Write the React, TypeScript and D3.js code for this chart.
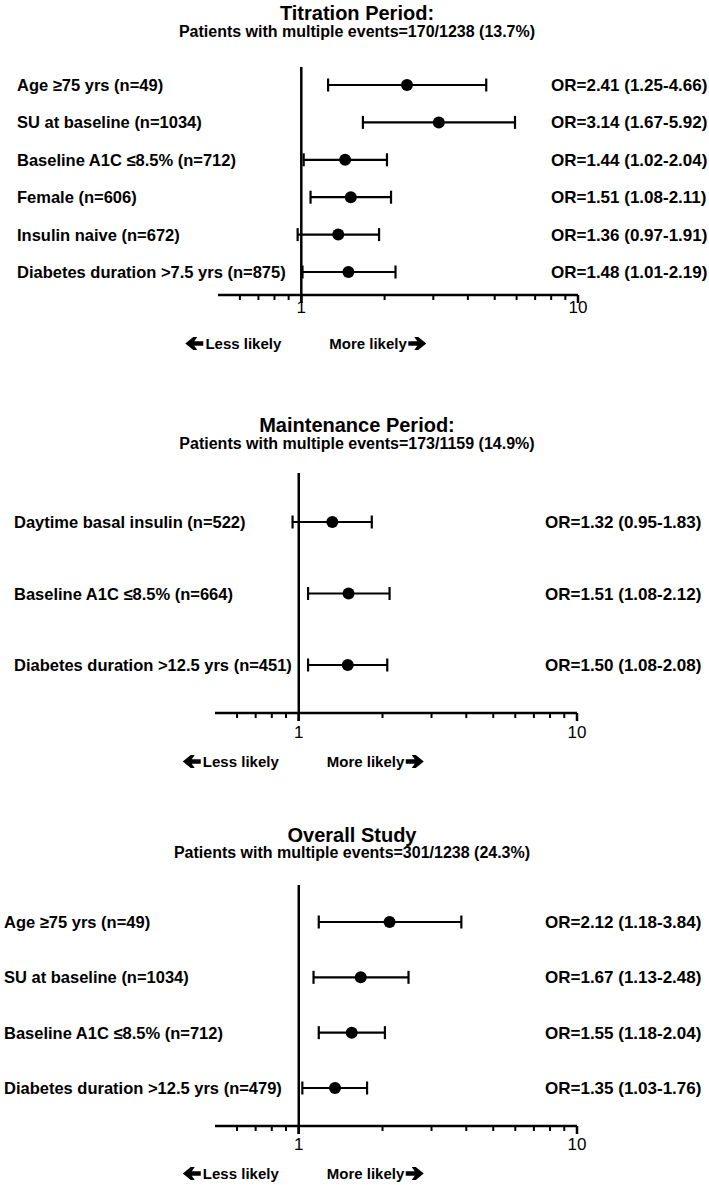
import React from "react";
import * as d3 from "d3";

// ---------- Data ----------
const titrationTitle = "Titration Period:";
const titrationSubtitle = "Patients with multiple events=170/1238 (13.7%)";
const titrationLabels = [
  "Age \u226575 yrs (n=49)",
  "SU at baseline (n=1034)",
  "Baseline A1C \u22648.5% (n=712)",
  "Female (n=606)",
  "Insulin naive (n=672)",
  "Diabetes duration >7.5 yrs (n=875)",
];
const titrationOR = [2.41, 3.14, 1.44, 1.51, 1.36, 1.48];
const titrationLow = [1.25, 1.67, 1.02, 1.08, 0.97, 1.01];
const titrationHigh = [4.66, 5.92, 2.04, 2.11, 1.91, 2.19];

const maintenanceTitle = "Maintenance Period:";
const maintenanceSubtitle = "Patients with multiple events=173/1159 (14.9%)";
const maintenanceLabels = [
  "Daytime basal insulin (n=522)",
  "Baseline A1C \u22648.5% (n=664)",
  "Diabetes duration >12.5 yrs (n=451)",
];
const maintenanceOR = [1.32, 1.51, 1.5];
const maintenanceLow = [0.95, 1.08, 1.08];
const maintenanceHigh = [1.83, 2.12, 2.08];

const overallTitle = "Overall Study";
const overallSubtitle = "Patients with multiple events=301/1238 (24.3%)";
const overallLabels = [
  "Age \u226575 yrs (n=49)",
  "SU at baseline (n=1034)",
  "Baseline A1C \u22648.5% (n=712)",
  "Diabetes duration >12.5 yrs (n=479)",
];
const overallOR = [2.12, 1.67, 1.55, 1.35];
const overallLow = [1.18, 1.13, 1.18, 1.03];
const overallHigh = [3.84, 2.48, 2.04, 1.76];

const xDomain = [0.5, 10];
const majorTicks = [1, 10];
const minorTicks = [0.6, 0.7, 0.8, 0.9, 2, 3, 4, 5, 6, 7, 8, 9];
const lessText = "Less likely";
const moreText = "More likely";

// ---------- Layout ----------
const FONT = "'Liberation Sans', Arial, Helvetica, sans-serif";

type Layout = {
  titleCx: number;
  titleY: number;
  subY: number;
  lineTop: number;
  rowTop: number;
  rowBottom: number;
  axisY: number;
  xLeft: number;
  xRight: number;
  tickLabelY: number;
  likelyY: number;
  labelX: number;
  orX: number;
};

const layouts: Layout[] = [
  { titleCx: 357, titleY: 20, subY: 37, lineTop: 67, rowTop: 85, rowBottom: 272, axisY: 295, xLeft: 218, xRight: 578, tickLabelY: 313, likelyY: 349, labelX: 17, orX: 551 },
  { titleCx: 357, titleY: 432, subY: 449, lineTop: 473, rowTop: 522, rowBottom: 665, axisY: 713, xLeft: 215, xRight: 577, tickLabelY: 738, likelyY: 767, labelX: 14, orX: 545 },
  { titleCx: 352, titleY: 842, subY: 858, lineTop: 885, rowTop: 922, rowBottom: 1088, axisY: 1126, xLeft: 215, xRight: 577, tickLabelY: 1150, likelyY: 1179, labelX: 4, orX: 545 },
];

const fmt = d3.format(".2f");

function Arrow({ x, y, dir }: { x: number; y: number; dir: 1 | -1 }) {
  const L = 18, shaftL = 9, st = 2.2, hh = 6.5;
  const p = d3.path();
  p.moveTo(x, y - st);
  p.lineTo(x + dir * shaftL, y - st);
  p.lineTo(x + dir * (shaftL - 3), y - hh);
  p.lineTo(x + dir * (shaftL + 1), y - hh);
  p.lineTo(x + dir * L, y);
  p.lineTo(x + dir * (shaftL + 1), y + hh);
  p.lineTo(x + dir * (shaftL - 3), y + hh);
  p.lineTo(x + dir * shaftL, y + st);
  p.lineTo(x, y + st);
  p.closePath();
  return <path d={p.toString()} fill="#000" />;
}

function Panel({
  layout, title, subtitle, labels, or, low, high,
}: {
  layout: Layout; title: string; subtitle: string; labels: string[]; or: number[]; low: number[]; high: number[];
}) {
  const x = d3.scaleLog().domain(xDomain).range([layout.xLeft, layout.xRight]);
  const y = d3.scalePoint<string>().domain(labels).range([layout.rowTop, layout.rowBottom]);
  const x1 = x(1);
  const capH = 6.5;
  const lessEnd = x1 - 20;
  const lessWidth = 76;
  const moreStart = x1 + 28;
  const moreWidth = 78;
  return (
    <g>
      <text x={layout.titleCx} y={layout.titleY} textAnchor="middle" fontSize={20} fontWeight="bold" fontFamily={FONT}>{title}</text>
      <text x={layout.titleCx} y={layout.subY} textAnchor="middle" fontSize={16} fontWeight="bold" fontFamily={FONT}>{subtitle}</text>
      <line x1={x1} x2={x1} y1={layout.lineTop} y2={layout.axisY + 8} stroke="#000" strokeWidth={2.5} />
      <line x1={layout.xLeft} x2={layout.xRight} y1={layout.axisY} y2={layout.axisY} stroke="#000" strokeWidth={2.5} />
      {minorTicks.map((t) => (
        <line key={"m" + t} x1={x(t)} x2={x(t)} y1={layout.axisY} y2={layout.axisY + 5} stroke="#000" strokeWidth={2} />
      ))}
      {majorTicks.map((t) => (
        <g key={"M" + t}>
          <line x1={x(t)} x2={x(t)} y1={layout.axisY} y2={layout.axisY + 8} stroke="#000" strokeWidth={2.5} />
          <text x={x(t)} y={layout.tickLabelY} textAnchor="middle" fontSize={17} fontFamily={FONT}>{String(t)}</text>
        </g>
      ))}
      <text x={lessEnd} y={layout.likelyY} textAnchor="end" fontSize={15} fontWeight="bold" fontFamily={FONT}>{lessText}</text>
      <Arrow x={lessEnd - lessWidth - 2} y={layout.likelyY - 5.5} dir={-1} />
      <text x={moreStart} y={layout.likelyY} fontSize={15} fontWeight="bold" fontFamily={FONT}>{moreText}</text>
      <Arrow x={moreStart + moreWidth + 1} y={layout.likelyY - 5.5} dir={1} />
      {labels.map((lab, i) => {
        const yy = y(lab)!;
        return (
          <g key={lab}>
            <text x={layout.labelX} y={yy + 6} fontSize={16.5} fontWeight="bold" fontFamily={FONT}>{lab}</text>
            <line x1={x(low[i])} x2={x(high[i])} y1={yy} y2={yy} stroke="#000" strokeWidth={2.2} />
            <line x1={x(low[i])} x2={x(low[i])} y1={yy - capH} y2={yy + capH} stroke="#000" strokeWidth={2.2} />
            <line x1={x(high[i])} x2={x(high[i])} y1={yy - capH} y2={yy + capH} stroke="#000" strokeWidth={2.2} />
            <circle cx={x(or[i])} cy={yy} r={6} fill="#000" />
            <text x={layout.orX} y={yy + 6} fontSize={17} fontWeight="bold" fontFamily={FONT}>
              {`OR=${fmt(or[i])} (${fmt(low[i])}-${fmt(high[i])})`}
            </text>
          </g>
        );
      })}
    </g>
  );
}

export default function App() {
  return (
    <svg width={709} height={1185} style={{ position: "absolute", left: 0, top: 0, background: "#fff" }}>
      <rect width={709} height={1185} fill="#fff" />
      <Panel layout={layouts[0]} title={titrationTitle} subtitle={titrationSubtitle} labels={titrationLabels} or={titrationOR} low={titrationLow} high={titrationHigh} />
      <Panel layout={layouts[1]} title={maintenanceTitle} subtitle={maintenanceSubtitle} labels={maintenanceLabels} or={maintenanceOR} low={maintenanceLow} high={maintenanceHigh} />
      <Panel layout={layouts[2]} title={overallTitle} subtitle={overallSubtitle} labels={overallLabels} or={overallOR} low={overallLow} high={overallHigh} />
    </svg>
  );
}
